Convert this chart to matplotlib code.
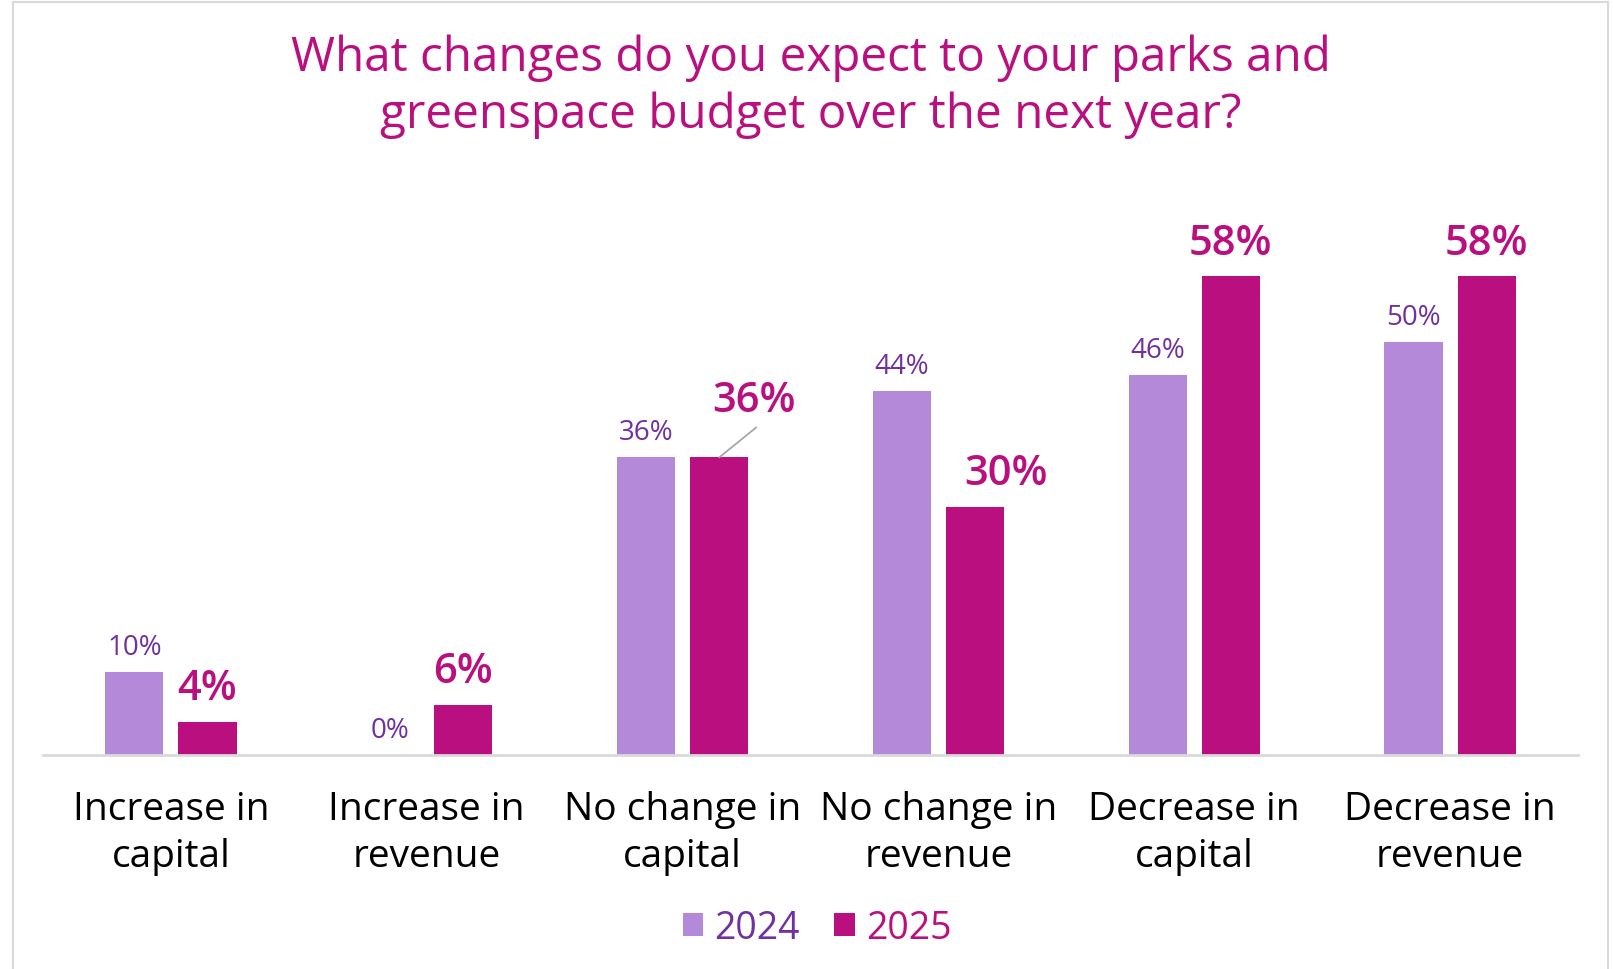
import matplotlib
matplotlib.use("Agg")
import matplotlib.pyplot as plt
import numpy as np
from matplotlib.lines import Line2D

categories = ["Increase in\ncapital", "Increase in\nrevenue", "No change in\ncapital",
              "No change in\nrevenue", "Decrease in\ncapital", "Decrease in\nrevenue"]
series_names = ["2024", "2025"]
values_2024 = [10, 0, 36, 44, 46, 50]
values_2025 = [4, 6, 36, 30, 58, 58]
title_lines = ["What changes do you expect to your parks and",
               "greenspace budget over the next year?"]

C24 = "#B589D9"
C25 = "#BA0F7E"
T24 = "#7030A0"
TITLE = "#BA0F7E"
FONT = "Open Sans"

W, H = 1613, 970
fig = plt.figure(figsize=(W / 100, H / 100), dpi=100)
fig.patch.set_facecolor("white")

# border
border = "#D9D9D9"
fig.add_artist(Line2D([13 / W, 13 / W], [0, 1 - 3 / H], color=border, lw=1.5, transform=fig.transFigure))
fig.add_artist(Line2D([1608 / W, 1608 / W], [0, 1 - 3 / H], color=border, lw=1.5, transform=fig.transFigure))
fig.add_artist(Line2D([13 / W, 1608 / W], [1 - 3 / H, 1 - 3 / H], color=border, lw=1.5, transform=fig.transFigure))

ymax = 65
px_per = 8.265
ax_h = ymax * px_per
ax = fig.add_axes([43 / W, (H - 756) / H, 1535 / W, ax_h / H])
ax.set_xlim(-0.5, 5.5)
ax.set_ylim(0, ymax)

x = np.arange(len(categories))
bw = 0.227
off = 0.143
b1 = ax.bar(x - off, values_2024, bw, color=C24, label=series_names[0], zorder=2)
b2 = ax.bar(x + off, values_2025, bw, color=C25, label=series_names[1], zorder=2)

for s in ["top", "right", "left"]:
    ax.spines[s].set_visible(False)
ax.spines["bottom"].set_color("#D9D9D9")
ax.spines["bottom"].set_linewidth(2)
ax.set_yticks([])
ax.set_xticks(x)
ax.set_xticklabels(categories, fontsize=28, family=FONT, color="black", linespacing=1.32)
ax.tick_params(axis="x", length=0, pad=25)

for xi, v in zip(x, values_2024):
    ax.annotate(f"{v}%", xy=(xi - off, v), xytext=(0, 18), textcoords="offset pixels",
                ha="center", va="baseline", fontsize=20, family=FONT, color=T24)

label_dx = [0, 0, 35, 31, 0, 0]
label_dy = [23, 23, 46, 23, 22, 22]
for i, (xi, v) in enumerate(zip(x, values_2025)):
    ax.annotate(f"{v}%", xy=(xi + off, v), xytext=(label_dx[i], label_dy[i]), textcoords="offset pixels",
                ha="center", va="baseline", fontsize=30, family=FONT, fontweight="semibold", color=C25)
    if i == 2:
        ax.annotate("", xy=(xi + off, v), xytext=(37, 30), textcoords="offset pixels",
                    arrowprops=dict(arrowstyle="-", color="#A6A6A6", lw=1.3, shrinkA=0, shrinkB=0))

fig.text(811 / W, 1 - 71 / H, title_lines[0], ha="center", va="baseline", fontsize=34.3,
         family=FONT, color=TITLE)
fig.text(811 / W, 1 - 128 / H, title_lines[1], ha="center", va="baseline", fontsize=34.3,
         family=FONT, color=TITLE)

leg = ax.legend(loc="center", bbox_to_anchor=(817 / W, 1 - 929 / H), bbox_transform=fig.transFigure,
                ncol=2, frameon=False, handlelength=0.55, handleheight=0.55, handletextpad=0.3,
                columnspacing=0.9, labelcolor=[T24, C25], prop={"family": FONT, "size": 27})

fig.savefig("out.png", dpi=100)
